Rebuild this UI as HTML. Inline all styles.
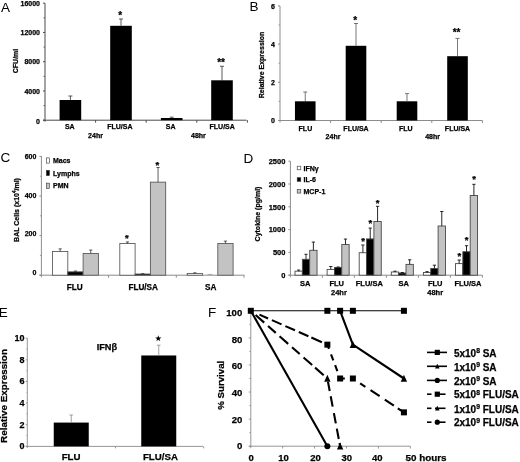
<!DOCTYPE html>
<html><head><meta charset="utf-8"><title>Figure</title>
<style>
html,body{margin:0;padding:0;background:#fff;}
body{width:520px;height:462px;overflow:hidden;}
svg{display:block;font-family:"Liberation Sans",sans-serif;will-change:transform;}
</style></head><body>
<svg width="520" height="462" viewBox="0 0 520 462">
<defs><filter id="soft" x="0" y="0" width="520" height="462" filterUnits="userSpaceOnUse"><feGaussianBlur stdDeviation="0.4"/></filter></defs>
<rect x="0" y="0" width="520" height="462" fill="#fff"/>
<g filter="url(#soft)">
<text x="1.00" y="11.70" font-size="13.5" text-anchor="start" font-weight="normal" fill="#000" >A</text>
<line x1="45.00" y1="3.20" x2="45.00" y2="121.70" stroke="#4a4a4a" stroke-width="1" />
<line x1="43.00" y1="120.20" x2="246.60" y2="120.20" stroke="#4a4a4a" stroke-width="1" />
<line x1="43.00" y1="120.20" x2="45.00" y2="120.20" stroke="#4a4a4a" stroke-width="1" />
<text x="40.00" y="123.80" font-size="7" text-anchor="end" font-weight="bold" fill="#000" stroke="#000" stroke-width="0.25" >0</text>
<line x1="43.00" y1="90.95" x2="45.00" y2="90.95" stroke="#4a4a4a" stroke-width="1" />
<text x="40.00" y="93.55" font-size="7" text-anchor="end" font-weight="bold" fill="#000" stroke="#000" stroke-width="0.25" >4000</text>
<line x1="43.00" y1="61.70" x2="45.00" y2="61.70" stroke="#4a4a4a" stroke-width="1" />
<text x="40.00" y="64.30" font-size="7" text-anchor="end" font-weight="bold" fill="#000" stroke="#000" stroke-width="0.25" >8000</text>
<line x1="43.00" y1="32.45" x2="45.00" y2="32.45" stroke="#4a4a4a" stroke-width="1" />
<text x="40.00" y="35.05" font-size="7" text-anchor="end" font-weight="bold" fill="#000" stroke="#000" stroke-width="0.25" >12000</text>
<line x1="43.00" y1="3.20" x2="45.00" y2="3.20" stroke="#4a4a4a" stroke-width="1" />
<text x="40.00" y="5.80" font-size="7" text-anchor="end" font-weight="bold" fill="#000" stroke="#000" stroke-width="0.25" >16000</text>
<line x1="43.50" y1="105.58" x2="45.00" y2="105.58" stroke="#4a4a4a" stroke-width="0.8" />
<line x1="43.50" y1="76.33" x2="45.00" y2="76.33" stroke="#4a4a4a" stroke-width="0.8" />
<line x1="43.50" y1="47.08" x2="45.00" y2="47.08" stroke="#4a4a4a" stroke-width="0.8" />
<line x1="43.50" y1="17.83" x2="45.00" y2="17.83" stroke="#4a4a4a" stroke-width="0.8" />
<line x1="95.60" y1="120.20" x2="95.60" y2="122.70" stroke="#4a4a4a" stroke-width="1" />
<line x1="146.20" y1="120.20" x2="146.20" y2="122.70" stroke="#4a4a4a" stroke-width="1" />
<line x1="196.80" y1="120.20" x2="196.80" y2="122.70" stroke="#4a4a4a" stroke-width="1" />
<line x1="247.40" y1="120.20" x2="247.40" y2="122.70" stroke="#4a4a4a" stroke-width="1" />
<text x="17.80" y="61.00" font-size="7" text-anchor="middle" font-weight="bold" fill="#000" stroke="#000" stroke-width="0.25" transform="rotate(-90 17.80 61.00)" >CFU/ml</text>
<rect x="59.60" y="100.00" width="21.60" height="20.20" fill="#000"/>
<line x1="70.40" y1="100.00" x2="70.40" y2="96.00" stroke="#333" stroke-width="0.8" />
<line x1="68.40" y1="96.00" x2="72.40" y2="96.00" stroke="#333" stroke-width="0.8" />
<rect x="110.20" y="25.80" width="21.60" height="94.40" fill="#000"/>
<line x1="121.00" y1="25.80" x2="121.00" y2="19.00" stroke="#333" stroke-width="0.8" />
<line x1="119.00" y1="19.00" x2="123.00" y2="19.00" stroke="#333" stroke-width="0.8" />
<text x="120.10" y="18.65" font-size="10" text-anchor="middle" font-weight="bold" fill="#000" stroke="#000" stroke-width="0.25" >*</text>
<rect x="160.90" y="118.00" width="21.60" height="2.20" fill="#000"/>
<line x1="171.70" y1="118.00" x2="171.70" y2="117.20" stroke="#333" stroke-width="0.8" />
<line x1="169.70" y1="117.20" x2="173.70" y2="117.20" stroke="#333" stroke-width="0.8" />
<rect x="211.20" y="80.30" width="21.60" height="39.90" fill="#000"/>
<line x1="222.00" y1="80.30" x2="222.00" y2="66.30" stroke="#333" stroke-width="0.8" />
<line x1="220.00" y1="66.30" x2="224.00" y2="66.30" stroke="#333" stroke-width="0.8" />
<text x="221.10" y="66.15" font-size="10" text-anchor="middle" font-weight="bold" fill="#000" stroke="#000" stroke-width="0.25" >**</text>
<text x="69.80" y="129.30" font-size="7" text-anchor="middle" font-weight="bold" fill="#000" stroke="#000" stroke-width="0.25" >SA</text>
<text x="119.90" y="129.30" font-size="7" text-anchor="middle" font-weight="bold" fill="#000" stroke="#000" stroke-width="0.25" >FLU/SA</text>
<text x="170.70" y="129.30" font-size="7" text-anchor="middle" font-weight="bold" fill="#000" stroke="#000" stroke-width="0.25" >SA</text>
<text x="222.20" y="129.30" font-size="7" text-anchor="middle" font-weight="bold" fill="#000" stroke="#000" stroke-width="0.25" >FLU/SA</text>
<text x="95.50" y="138.00" font-size="7" text-anchor="middle" font-weight="bold" fill="#000" stroke="#000" stroke-width="0.25" >24hr</text>
<text x="198.40" y="138.00" font-size="7" text-anchor="middle" font-weight="bold" fill="#000" stroke="#000" stroke-width="0.25" >48hr</text>
<text x="249.50" y="11.20" font-size="13.5" text-anchor="start" font-weight="normal" fill="#000" >B</text>
<line x1="280.00" y1="6.00" x2="280.00" y2="122.50" stroke="#8c8c8c" stroke-width="1" />
<line x1="278.00" y1="120.50" x2="482.50" y2="120.50" stroke="#8c8c8c" stroke-width="1" />
<line x1="278.00" y1="120.50" x2="280.00" y2="120.50" stroke="#8c8c8c" stroke-width="1" />
<text x="275.00" y="123.10" font-size="7" text-anchor="end" font-weight="bold" fill="#000" stroke="#000" stroke-width="0.25" >0</text>
<line x1="278.00" y1="82.30" x2="280.00" y2="82.30" stroke="#8c8c8c" stroke-width="1" />
<text x="275.00" y="84.90" font-size="7" text-anchor="end" font-weight="bold" fill="#000" stroke="#000" stroke-width="0.25" >2</text>
<line x1="278.00" y1="44.10" x2="280.00" y2="44.10" stroke="#8c8c8c" stroke-width="1" />
<text x="275.00" y="46.70" font-size="7" text-anchor="end" font-weight="bold" fill="#000" stroke="#000" stroke-width="0.25" >4</text>
<line x1="278.00" y1="5.90" x2="280.00" y2="5.90" stroke="#8c8c8c" stroke-width="1" />
<text x="275.00" y="8.50" font-size="7" text-anchor="end" font-weight="bold" fill="#000" stroke="#000" stroke-width="0.25" >6</text>
<line x1="278.50" y1="101.40" x2="280.00" y2="101.40" stroke="#8c8c8c" stroke-width="0.8" />
<line x1="278.50" y1="63.20" x2="280.00" y2="63.20" stroke="#8c8c8c" stroke-width="0.8" />
<line x1="278.50" y1="25.00" x2="280.00" y2="25.00" stroke="#8c8c8c" stroke-width="0.8" />
<line x1="330.60" y1="120.50" x2="330.60" y2="123.00" stroke="#8c8c8c" stroke-width="1" />
<line x1="381.20" y1="120.50" x2="381.20" y2="123.00" stroke="#8c8c8c" stroke-width="1" />
<line x1="431.80" y1="120.50" x2="431.80" y2="123.00" stroke="#8c8c8c" stroke-width="1" />
<line x1="482.40" y1="120.50" x2="482.40" y2="123.00" stroke="#8c8c8c" stroke-width="1" />
<text x="264.00" y="65.00" font-size="7" text-anchor="middle" font-weight="bold" fill="#000" stroke="#000" stroke-width="0.25" transform="rotate(-90 264.00 65.00)" >Relative Expression</text>
<rect x="294.95" y="101.30" width="20.60" height="19.20" fill="#000"/>
<line x1="305.25" y1="101.30" x2="305.25" y2="92.00" stroke="#555" stroke-width="0.8" />
<line x1="303.25" y1="92.00" x2="307.25" y2="92.00" stroke="#555" stroke-width="0.8" />
<rect x="345.70" y="45.80" width="20.60" height="74.70" fill="#000"/>
<line x1="356.00" y1="45.80" x2="356.00" y2="23.50" stroke="#555" stroke-width="0.8" />
<line x1="354.00" y1="23.50" x2="358.00" y2="23.50" stroke="#555" stroke-width="0.8" />
<text x="355.10" y="23.95" font-size="10" text-anchor="middle" font-weight="bold" fill="#000" stroke="#000" stroke-width="0.25" >*</text>
<rect x="396.70" y="101.30" width="20.60" height="19.20" fill="#000"/>
<line x1="407.00" y1="101.30" x2="407.00" y2="93.60" stroke="#555" stroke-width="0.8" />
<line x1="405.00" y1="93.60" x2="409.00" y2="93.60" stroke="#555" stroke-width="0.8" />
<rect x="447.20" y="56.20" width="20.60" height="64.30" fill="#000"/>
<line x1="457.50" y1="56.20" x2="457.50" y2="38.40" stroke="#555" stroke-width="0.8" />
<line x1="455.50" y1="38.40" x2="459.50" y2="38.40" stroke="#555" stroke-width="0.8" />
<text x="456.60" y="35.85" font-size="10" text-anchor="middle" font-weight="bold" fill="#000" stroke="#000" stroke-width="0.25" >**</text>
<text x="305.40" y="131.30" font-size="7" text-anchor="middle" font-weight="bold" fill="#000" stroke="#000" stroke-width="0.25" >FLU</text>
<text x="356.00" y="131.30" font-size="7" text-anchor="middle" font-weight="bold" fill="#000" stroke="#000" stroke-width="0.25" >FLU/SA</text>
<text x="405.70" y="131.30" font-size="7" text-anchor="middle" font-weight="bold" fill="#000" stroke="#000" stroke-width="0.25" >FLU</text>
<text x="457.50" y="131.30" font-size="7" text-anchor="middle" font-weight="bold" fill="#000" stroke="#000" stroke-width="0.25" >FLU/SA</text>
<text x="333.00" y="139.20" font-size="7" text-anchor="middle" font-weight="bold" fill="#000" stroke="#000" stroke-width="0.25" >24hr</text>
<text x="432.60" y="139.20" font-size="7" text-anchor="middle" font-weight="bold" fill="#000" stroke="#000" stroke-width="0.25" >48hr</text>
<text x="0.50" y="162.30" font-size="13.5" text-anchor="start" font-weight="normal" fill="#000" >C</text>
<line x1="41.40" y1="156.00" x2="41.40" y2="277.20" stroke="#8c8c8c" stroke-width="1" />
<line x1="39.40" y1="275.20" x2="244.40" y2="275.20" stroke="#8c8c8c" stroke-width="1" />
<line x1="39.40" y1="275.20" x2="41.40" y2="275.20" stroke="#8c8c8c" stroke-width="1" />
<text x="36.40" y="275.10" font-size="7" text-anchor="end" font-weight="bold" fill="#000" stroke="#000" stroke-width="0.25" >0</text>
<line x1="39.40" y1="235.60" x2="41.40" y2="235.60" stroke="#8c8c8c" stroke-width="1" />
<text x="36.40" y="236.30" font-size="7" text-anchor="end" font-weight="bold" fill="#000" stroke="#000" stroke-width="0.25" >200</text>
<line x1="39.40" y1="196.00" x2="41.40" y2="196.00" stroke="#8c8c8c" stroke-width="1" />
<text x="36.40" y="197.50" font-size="7" text-anchor="end" font-weight="bold" fill="#000" stroke="#000" stroke-width="0.25" >400</text>
<line x1="39.40" y1="156.40" x2="41.40" y2="156.40" stroke="#8c8c8c" stroke-width="1" />
<text x="36.40" y="158.70" font-size="7" text-anchor="end" font-weight="bold" fill="#000" stroke="#000" stroke-width="0.25" >600</text>
<line x1="39.90" y1="255.40" x2="41.40" y2="255.40" stroke="#8c8c8c" stroke-width="0.8" />
<line x1="39.90" y1="215.80" x2="41.40" y2="215.80" stroke="#8c8c8c" stroke-width="0.8" />
<line x1="39.90" y1="176.20" x2="41.40" y2="176.20" stroke="#8c8c8c" stroke-width="0.8" />
<line x1="108.60" y1="275.20" x2="108.60" y2="277.70" stroke="#8c8c8c" stroke-width="1" />
<line x1="176.30" y1="275.20" x2="176.30" y2="277.70" stroke="#8c8c8c" stroke-width="1" />
<line x1="244.00" y1="275.20" x2="244.00" y2="277.70" stroke="#8c8c8c" stroke-width="1" />
<text x="18.60" y="210.00" font-size="7" text-anchor="middle" font-weight="bold" fill="#000" stroke="#000" stroke-width="0.25" transform="rotate(-90 18.60 210.00)" >BAL Cells (x10<tspan font-size="4.5" dy="-2.5">4</tspan><tspan dy="2.5">/ml)</tspan></text>
<rect x="46.40" y="157.90" width="3.00" height="5.20" fill="#fff" stroke="#333" stroke-width="0.6"/>
<text x="53.00" y="163.00" font-size="7" text-anchor="start" font-weight="bold" fill="#000" stroke="#000" stroke-width="0.25" >Macs</text>
<rect x="46.40" y="170.40" width="3.00" height="5.20" fill="#000" stroke="#333" stroke-width="0.6"/>
<text x="53.00" y="175.50" font-size="7" text-anchor="start" font-weight="bold" fill="#000" stroke="#000" stroke-width="0.25" >Lymphs</text>
<rect x="46.40" y="183.15" width="3.00" height="5.20" fill="#c3c3c3" stroke="#333" stroke-width="0.6"/>
<text x="53.00" y="188.25" font-size="7" text-anchor="start" font-weight="bold" fill="#000" stroke="#000" stroke-width="0.25" >PMN</text>
<rect x="52.50" y="251.44" width="15.30" height="23.76" fill="#fff" stroke="#555" stroke-width="0.85"/>
<line x1="60.15" y1="251.44" x2="60.15" y2="248.87" stroke="#333" stroke-width="0.8" />
<line x1="58.55" y1="248.87" x2="61.75" y2="248.87" stroke="#333" stroke-width="0.8" />
<rect x="67.80" y="271.83" width="15.30" height="3.37" fill="#000" stroke="#555" stroke-width="0.85"/>
<line x1="75.45" y1="271.83" x2="75.45" y2="271.04" stroke="#333" stroke-width="0.8" />
<line x1="73.85" y1="271.04" x2="77.05" y2="271.04" stroke="#333" stroke-width="0.8" />
<rect x="83.10" y="253.42" width="15.30" height="21.78" fill="#c3c3c3" stroke="#555" stroke-width="0.85"/>
<line x1="90.75" y1="253.42" x2="90.75" y2="250.05" stroke="#333" stroke-width="0.8" />
<line x1="89.15" y1="250.05" x2="92.35" y2="250.05" stroke="#333" stroke-width="0.8" />
<rect x="119.80" y="243.52" width="15.30" height="31.68" fill="#fff" stroke="#555" stroke-width="0.85"/>
<line x1="127.45" y1="243.52" x2="127.45" y2="241.94" stroke="#333" stroke-width="0.8" />
<line x1="125.85" y1="241.94" x2="129.05" y2="241.94" stroke="#333" stroke-width="0.8" />
<text x="126.85" y="240.89" font-size="9.5" text-anchor="middle" font-weight="bold" fill="#000" stroke="#000" stroke-width="0.25" >*</text>
<rect x="135.10" y="274.01" width="15.30" height="1.19" fill="#000" stroke="#555" stroke-width="0.85"/>
<line x1="142.75" y1="274.01" x2="142.75" y2="273.62" stroke="#333" stroke-width="0.8" />
<line x1="141.15" y1="273.62" x2="144.35" y2="273.62" stroke="#333" stroke-width="0.8" />
<rect x="150.40" y="182.14" width="15.30" height="93.06" fill="#c3c3c3" stroke="#555" stroke-width="0.85"/>
<line x1="158.05" y1="182.14" x2="158.05" y2="167.49" stroke="#333" stroke-width="0.8" />
<line x1="156.45" y1="167.49" x2="159.65" y2="167.49" stroke="#333" stroke-width="0.8" />
<text x="157.45" y="167.69" font-size="9.5" text-anchor="middle" font-weight="bold" fill="#000" stroke="#000" stroke-width="0.25" >*</text>
<rect x="187.20" y="273.42" width="15.30" height="1.78" fill="#fff" stroke="#555" stroke-width="0.85"/>
<line x1="194.85" y1="273.42" x2="194.85" y2="272.82" stroke="#333" stroke-width="0.8" />
<line x1="193.25" y1="272.82" x2="196.45" y2="272.82" stroke="#333" stroke-width="0.8" />
<line x1="207.50" y1="274.40" x2="212.50" y2="274.40" stroke="#999" stroke-width="0.8" />
<rect x="217.80" y="243.52" width="15.30" height="31.68" fill="#c3c3c3" stroke="#555" stroke-width="0.85"/>
<line x1="225.45" y1="243.52" x2="225.45" y2="241.14" stroke="#333" stroke-width="0.8" />
<line x1="223.85" y1="241.14" x2="227.05" y2="241.14" stroke="#333" stroke-width="0.8" />
<text x="74.80" y="289.60" font-size="8.2" text-anchor="middle" font-weight="bold" fill="#000" stroke="#000" stroke-width="0.25" >FLU</text>
<text x="143.20" y="289.60" font-size="8.2" text-anchor="middle" font-weight="bold" fill="#000" stroke="#000" stroke-width="0.25" >FLU/SA</text>
<text x="210.70" y="289.60" font-size="8.2" text-anchor="middle" font-weight="bold" fill="#000" stroke="#000" stroke-width="0.25" >SA</text>
<text x="243.50" y="162.60" font-size="13.5" text-anchor="start" font-weight="normal" fill="#000" >D</text>
<line x1="290.40" y1="161.30" x2="290.40" y2="277.20" stroke="#8c8c8c" stroke-width="1" />
<line x1="288.40" y1="275.20" x2="482.50" y2="275.20" stroke="#8c8c8c" stroke-width="1" />
<line x1="288.40" y1="275.20" x2="290.40" y2="275.20" stroke="#8c8c8c" stroke-width="1" />
<text x="285.40" y="277.90" font-size="7.5" text-anchor="end" font-weight="bold" fill="#000" stroke="#000" stroke-width="0.25" >0</text>
<line x1="288.40" y1="252.40" x2="290.40" y2="252.40" stroke="#8c8c8c" stroke-width="1" />
<text x="285.40" y="255.10" font-size="7.5" text-anchor="end" font-weight="bold" fill="#000" stroke="#000" stroke-width="0.25" >500</text>
<line x1="288.40" y1="229.60" x2="290.40" y2="229.60" stroke="#8c8c8c" stroke-width="1" />
<text x="285.40" y="232.30" font-size="7.5" text-anchor="end" font-weight="bold" fill="#000" stroke="#000" stroke-width="0.25" >1000</text>
<line x1="288.40" y1="206.80" x2="290.40" y2="206.80" stroke="#8c8c8c" stroke-width="1" />
<text x="285.40" y="209.50" font-size="7.5" text-anchor="end" font-weight="bold" fill="#000" stroke="#000" stroke-width="0.25" >1500</text>
<line x1="288.40" y1="184.00" x2="290.40" y2="184.00" stroke="#8c8c8c" stroke-width="1" />
<text x="285.40" y="186.70" font-size="7.5" text-anchor="end" font-weight="bold" fill="#000" stroke="#000" stroke-width="0.25" >2000</text>
<line x1="288.40" y1="161.20" x2="290.40" y2="161.20" stroke="#8c8c8c" stroke-width="1" />
<text x="285.40" y="163.90" font-size="7.5" text-anchor="end" font-weight="bold" fill="#000" stroke="#000" stroke-width="0.25" >2500</text>
<line x1="322.40" y1="275.20" x2="322.40" y2="277.70" stroke="#8c8c8c" stroke-width="1" />
<line x1="354.40" y1="275.20" x2="354.40" y2="277.70" stroke="#8c8c8c" stroke-width="1" />
<line x1="386.40" y1="275.20" x2="386.40" y2="277.70" stroke="#8c8c8c" stroke-width="1" />
<line x1="418.40" y1="275.20" x2="418.40" y2="277.70" stroke="#8c8c8c" stroke-width="1" />
<line x1="450.40" y1="275.20" x2="450.40" y2="277.70" stroke="#8c8c8c" stroke-width="1" />
<line x1="482.40" y1="275.20" x2="482.40" y2="277.70" stroke="#8c8c8c" stroke-width="1" />
<text x="260.30" y="214.00" font-size="7" text-anchor="middle" font-weight="bold" fill="#000" stroke="#000" stroke-width="0.25" transform="rotate(-90 260.30 214.00)" >Cytokine (pg/ml)</text>
<rect x="297.20" y="166.20" width="3.60" height="3.60" fill="#fff" stroke="#333" stroke-width="0.6"/>
<text x="303.50" y="170.50" font-size="7" text-anchor="start" font-weight="bold" fill="#000" stroke="#000" stroke-width="0.25" >IFN&#947;</text>
<rect x="297.20" y="177.70" width="3.60" height="3.60" fill="#000" stroke="#333" stroke-width="0.6"/>
<text x="303.50" y="182.00" font-size="7" text-anchor="start" font-weight="bold" fill="#000" stroke="#000" stroke-width="0.25" >IL-6</text>
<rect x="297.20" y="189.50" width="3.60" height="3.60" fill="#c3c3c3" stroke="#333" stroke-width="0.6"/>
<text x="303.50" y="193.80" font-size="7" text-anchor="start" font-weight="bold" fill="#000" stroke="#000" stroke-width="0.25" >MCP-1</text>
<rect x="295.00" y="271.19" width="7.35" height="4.01" fill="#fff" stroke="#4a4a4a" stroke-width="0.9"/>
<line x1="298.68" y1="271.19" x2="298.68" y2="270.09" stroke="#111" stroke-width="0.9" />
<line x1="297.07" y1="270.09" x2="300.28" y2="270.09" stroke="#111" stroke-width="0.9" />
<rect x="302.35" y="259.29" width="7.35" height="15.91" fill="#000" stroke="#4a4a4a" stroke-width="0.9"/>
<line x1="306.03" y1="259.29" x2="306.03" y2="254.32" stroke="#111" stroke-width="0.9" />
<line x1="304.43" y1="254.32" x2="307.63" y2="254.32" stroke="#111" stroke-width="0.9" />
<rect x="309.70" y="250.30" width="7.35" height="24.90" fill="#c3c3c3" stroke="#4a4a4a" stroke-width="0.9"/>
<line x1="313.38" y1="250.30" x2="313.38" y2="242.09" stroke="#111" stroke-width="0.9" />
<line x1="311.77" y1="242.09" x2="314.98" y2="242.09" stroke="#111" stroke-width="0.9" />
<rect x="327.10" y="269.41" width="7.35" height="5.79" fill="#fff" stroke="#4a4a4a" stroke-width="0.9"/>
<line x1="330.78" y1="269.41" x2="330.78" y2="266.49" stroke="#111" stroke-width="0.9" />
<line x1="329.18" y1="266.49" x2="332.38" y2="266.49" stroke="#111" stroke-width="0.9" />
<rect x="334.45" y="267.40" width="7.35" height="7.80" fill="#000" stroke="#4a4a4a" stroke-width="0.9"/>
<line x1="338.13" y1="267.40" x2="338.13" y2="266.99" stroke="#111" stroke-width="0.9" />
<line x1="336.53" y1="266.99" x2="339.73" y2="266.99" stroke="#111" stroke-width="0.9" />
<rect x="341.80" y="244.51" width="7.35" height="30.69" fill="#c3c3c3" stroke="#4a4a4a" stroke-width="0.9"/>
<line x1="345.48" y1="244.51" x2="345.48" y2="239.08" stroke="#111" stroke-width="0.9" />
<line x1="343.88" y1="239.08" x2="347.08" y2="239.08" stroke="#111" stroke-width="0.9" />
<rect x="359.20" y="252.72" width="7.35" height="22.48" fill="#fff" stroke="#4a4a4a" stroke-width="0.9"/>
<line x1="362.88" y1="252.72" x2="362.88" y2="245.01" stroke="#111" stroke-width="0.9" />
<line x1="361.27" y1="245.01" x2="364.48" y2="245.01" stroke="#111" stroke-width="0.9" />
<text x="362.98" y="244.49" font-size="9.5" text-anchor="middle" font-weight="bold" fill="#000" stroke="#000" stroke-width="0.25" >*</text>
<rect x="366.55" y="238.90" width="7.35" height="36.30" fill="#000" stroke="#4a4a4a" stroke-width="0.9"/>
<line x1="370.23" y1="238.90" x2="370.23" y2="228.10" stroke="#111" stroke-width="0.9" />
<line x1="368.62" y1="228.10" x2="371.83" y2="228.10" stroke="#111" stroke-width="0.9" />
<text x="370.33" y="225.59" font-size="9.5" text-anchor="middle" font-weight="bold" fill="#000" stroke="#000" stroke-width="0.25" >*</text>
<rect x="373.90" y="221.48" width="7.35" height="53.72" fill="#c3c3c3" stroke="#4a4a4a" stroke-width="0.9"/>
<line x1="377.57" y1="221.48" x2="377.57" y2="206.30" stroke="#111" stroke-width="0.9" />
<line x1="375.97" y1="206.30" x2="379.18" y2="206.30" stroke="#111" stroke-width="0.9" />
<text x="377.68" y="206.19" font-size="9.5" text-anchor="middle" font-weight="bold" fill="#000" stroke="#000" stroke-width="0.25" >*</text>
<rect x="391.30" y="272.01" width="7.35" height="3.19" fill="#fff" stroke="#4a4a4a" stroke-width="0.9"/>
<line x1="394.98" y1="272.01" x2="394.98" y2="271.19" stroke="#111" stroke-width="0.9" />
<line x1="393.38" y1="271.19" x2="396.58" y2="271.19" stroke="#111" stroke-width="0.9" />
<rect x="398.65" y="273.01" width="7.35" height="2.19" fill="#000" stroke="#4a4a4a" stroke-width="0.9"/>
<line x1="402.33" y1="273.01" x2="402.33" y2="272.56" stroke="#111" stroke-width="0.9" />
<line x1="400.73" y1="272.56" x2="403.93" y2="272.56" stroke="#111" stroke-width="0.9" />
<rect x="406.00" y="264.39" width="7.35" height="10.81" fill="#c3c3c3" stroke="#4a4a4a" stroke-width="0.9"/>
<line x1="409.68" y1="264.39" x2="409.68" y2="259.79" stroke="#111" stroke-width="0.9" />
<line x1="408.07" y1="259.79" x2="411.28" y2="259.79" stroke="#111" stroke-width="0.9" />
<rect x="423.40" y="272.51" width="7.35" height="2.69" fill="#fff" stroke="#4a4a4a" stroke-width="0.9"/>
<line x1="427.07" y1="272.51" x2="427.07" y2="271.64" stroke="#111" stroke-width="0.9" />
<line x1="425.47" y1="271.64" x2="428.68" y2="271.64" stroke="#111" stroke-width="0.9" />
<rect x="430.75" y="268.50" width="7.35" height="6.70" fill="#000" stroke="#4a4a4a" stroke-width="0.9"/>
<line x1="434.43" y1="268.50" x2="434.43" y2="265.21" stroke="#111" stroke-width="0.9" />
<line x1="432.82" y1="265.21" x2="436.03" y2="265.21" stroke="#111" stroke-width="0.9" />
<rect x="438.10" y="226.00" width="7.35" height="49.20" fill="#c3c3c3" stroke="#4a4a4a" stroke-width="0.9"/>
<line x1="441.77" y1="226.00" x2="441.77" y2="211.50" stroke="#111" stroke-width="0.9" />
<line x1="440.17" y1="211.50" x2="443.38" y2="211.50" stroke="#111" stroke-width="0.9" />
<rect x="455.50" y="263.62" width="7.35" height="11.58" fill="#fff" stroke="#4a4a4a" stroke-width="0.9"/>
<line x1="459.18" y1="263.62" x2="459.18" y2="260.02" stroke="#111" stroke-width="0.9" />
<line x1="457.57" y1="260.02" x2="460.78" y2="260.02" stroke="#111" stroke-width="0.9" />
<text x="459.28" y="259.09" font-size="9.5" text-anchor="middle" font-weight="bold" fill="#000" stroke="#000" stroke-width="0.25" >*</text>
<rect x="462.85" y="251.72" width="7.35" height="23.48" fill="#000" stroke="#4a4a4a" stroke-width="0.9"/>
<line x1="466.53" y1="251.72" x2="466.53" y2="245.70" stroke="#111" stroke-width="0.9" />
<line x1="464.93" y1="245.70" x2="468.13" y2="245.70" stroke="#111" stroke-width="0.9" />
<text x="466.63" y="243.49" font-size="9.5" text-anchor="middle" font-weight="bold" fill="#000" stroke="#000" stroke-width="0.25" >*</text>
<rect x="470.20" y="195.49" width="7.35" height="79.71" fill="#c3c3c3" stroke="#4a4a4a" stroke-width="0.9"/>
<line x1="473.88" y1="195.49" x2="473.88" y2="184.32" stroke="#111" stroke-width="0.9" />
<line x1="472.27" y1="184.32" x2="475.48" y2="184.32" stroke="#111" stroke-width="0.9" />
<text x="473.98" y="181.99" font-size="9.5" text-anchor="middle" font-weight="bold" fill="#000" stroke="#000" stroke-width="0.25" >*</text>
<text x="305.20" y="286.30" font-size="7.5" text-anchor="middle" font-weight="bold" fill="#000" stroke="#000" stroke-width="0.25" >SA</text>
<text x="336.70" y="286.30" font-size="7.5" text-anchor="middle" font-weight="bold" fill="#000" stroke="#000" stroke-width="0.25" >FLU</text>
<text x="369.30" y="286.30" font-size="7.5" text-anchor="middle" font-weight="bold" fill="#000" stroke="#000" stroke-width="0.25" >FLU/SA</text>
<text x="403.70" y="286.30" font-size="7.5" text-anchor="middle" font-weight="bold" fill="#000" stroke="#000" stroke-width="0.25" >SA</text>
<text x="435.20" y="286.30" font-size="7.5" text-anchor="middle" font-weight="bold" fill="#000" stroke="#000" stroke-width="0.25" >FLU</text>
<text x="468.00" y="286.30" font-size="7.5" text-anchor="middle" font-weight="bold" fill="#000" stroke="#000" stroke-width="0.25" >FLU/SA</text>
<text x="338.90" y="295.20" font-size="7.5" text-anchor="middle" font-weight="bold" fill="#000" stroke="#000" stroke-width="0.25" >24hr</text>
<text x="435.20" y="295.20" font-size="7.5" text-anchor="middle" font-weight="bold" fill="#000" stroke="#000" stroke-width="0.25" >48hr</text>
<text x="-1.20" y="316.60" font-size="13.5" text-anchor="start" font-weight="normal" fill="#000" >E</text>
<line x1="27.30" y1="338.00" x2="27.30" y2="447.90" stroke="#8a8a8a" stroke-width="0.9" />
<line x1="25.80" y1="446.40" x2="203.00" y2="446.40" stroke="#8a8a8a" stroke-width="0.9" />
<line x1="25.80" y1="446.40" x2="27.30" y2="446.40" stroke="#8a8a8a" stroke-width="0.9" />
<text x="24.50" y="449.30" font-size="9" text-anchor="end" font-weight="bold" fill="#000" stroke="#000" stroke-width="0.25" >0</text>
<line x1="25.80" y1="424.75" x2="27.30" y2="424.75" stroke="#8a8a8a" stroke-width="0.9" />
<text x="24.50" y="427.65" font-size="9" text-anchor="end" font-weight="bold" fill="#000" stroke="#000" stroke-width="0.25" >2</text>
<line x1="25.80" y1="403.10" x2="27.30" y2="403.10" stroke="#8a8a8a" stroke-width="0.9" />
<text x="24.50" y="406.00" font-size="9" text-anchor="end" font-weight="bold" fill="#000" stroke="#000" stroke-width="0.25" >4</text>
<line x1="25.80" y1="381.45" x2="27.30" y2="381.45" stroke="#8a8a8a" stroke-width="0.9" />
<text x="24.50" y="384.35" font-size="9" text-anchor="end" font-weight="bold" fill="#000" stroke="#000" stroke-width="0.25" >6</text>
<line x1="25.80" y1="359.80" x2="27.30" y2="359.80" stroke="#8a8a8a" stroke-width="0.9" />
<text x="24.50" y="362.70" font-size="9" text-anchor="end" font-weight="bold" fill="#000" stroke="#000" stroke-width="0.25" >8</text>
<line x1="25.80" y1="338.15" x2="27.30" y2="338.15" stroke="#8a8a8a" stroke-width="0.9" />
<text x="24.50" y="341.05" font-size="9" text-anchor="end" font-weight="bold" fill="#000" stroke="#000" stroke-width="0.25" >10</text>
<line x1="26.30" y1="435.57" x2="27.30" y2="435.57" stroke="#8a8a8a" stroke-width="0.7" />
<line x1="26.30" y1="413.93" x2="27.30" y2="413.93" stroke="#8a8a8a" stroke-width="0.7" />
<line x1="26.30" y1="392.27" x2="27.30" y2="392.27" stroke="#8a8a8a" stroke-width="0.7" />
<line x1="26.30" y1="370.62" x2="27.30" y2="370.62" stroke="#8a8a8a" stroke-width="0.7" />
<line x1="26.30" y1="348.98" x2="27.30" y2="348.98" stroke="#8a8a8a" stroke-width="0.7" />
<line x1="115.50" y1="446.40" x2="115.50" y2="448.40" stroke="#8a8a8a" stroke-width="0.9" />
<line x1="203.70" y1="446.40" x2="203.70" y2="448.40" stroke="#8a8a8a" stroke-width="0.9" />
<text x="7.30" y="396.00" font-size="9.9" text-anchor="middle" font-weight="bold" fill="#000" stroke="#000" stroke-width="0.25" transform="rotate(-90 7.30 396.00)" >Relative Expression</text>
<text x="106.90" y="350.20" font-size="9.2" text-anchor="middle" font-weight="bold" fill="#000" stroke="#000" stroke-width="0.25" >IFN&#946;</text>
<rect x="53.75" y="422.58" width="35.00" height="23.81" fill="#000"/>
<line x1="71.25" y1="422.58" x2="71.25" y2="415.01" stroke="#8c8c8c" stroke-width="0.8" />
<line x1="69.45" y1="415.01" x2="73.05" y2="415.01" stroke="#8c8c8c" stroke-width="0.8" />
<rect x="141.25" y="355.47" width="35.00" height="90.93" fill="#000"/>
<line x1="158.75" y1="355.47" x2="158.75" y2="345.19" stroke="#8c8c8c" stroke-width="0.8" />
<line x1="156.95" y1="345.19" x2="160.55" y2="345.19" stroke="#8c8c8c" stroke-width="0.8" />
<polygon points="158.30,335.20 159.09,337.41 161.44,337.48 159.58,338.92 160.24,341.17 158.30,339.85 156.36,341.17 157.02,338.92 155.16,337.48 157.51,337.41" fill="#000"/>
<text x="71.10" y="459.80" font-size="9.7" text-anchor="middle" font-weight="bold" fill="#000" stroke="#000" stroke-width="0.25" >FLU</text>
<text x="160.40" y="459.80" font-size="9.7" text-anchor="middle" font-weight="bold" fill="#000" stroke="#000" stroke-width="0.25" >FLU/SA</text>
<text x="207.90" y="317.20" font-size="13.5" text-anchor="start" font-weight="normal" fill="#000" >F</text>
<line x1="250.80" y1="310.80" x2="250.80" y2="448.20" stroke="#8a8a8a" stroke-width="0.9" />
<line x1="248.80" y1="446.20" x2="410.30" y2="446.20" stroke="#8a8a8a" stroke-width="0.9" />
<line x1="248.80" y1="446.20" x2="250.80" y2="446.20" stroke="#8a8a8a" stroke-width="0.9" />
<text x="242.30" y="449.04" font-size="9.6" text-anchor="end" font-weight="bold" fill="#000" stroke="#000" stroke-width="0.25" >0</text>
<line x1="248.80" y1="419.12" x2="250.80" y2="419.12" stroke="#8a8a8a" stroke-width="0.9" />
<text x="242.30" y="422.50" font-size="9.6" text-anchor="end" font-weight="bold" fill="#000" stroke="#000" stroke-width="0.25" >20</text>
<line x1="248.80" y1="392.04" x2="250.80" y2="392.04" stroke="#8a8a8a" stroke-width="0.9" />
<text x="242.30" y="395.96" font-size="9.6" text-anchor="end" font-weight="bold" fill="#000" stroke="#000" stroke-width="0.25" >40</text>
<line x1="248.80" y1="364.96" x2="250.80" y2="364.96" stroke="#8a8a8a" stroke-width="0.9" />
<text x="242.30" y="369.42" font-size="9.6" text-anchor="end" font-weight="bold" fill="#000" stroke="#000" stroke-width="0.25" >60</text>
<line x1="248.80" y1="337.88" x2="250.80" y2="337.88" stroke="#8a8a8a" stroke-width="0.9" />
<text x="242.30" y="342.88" font-size="9.6" text-anchor="end" font-weight="bold" fill="#000" stroke="#000" stroke-width="0.25" >80</text>
<line x1="248.80" y1="310.80" x2="250.80" y2="310.80" stroke="#8a8a8a" stroke-width="0.9" />
<text x="242.30" y="316.34" font-size="9.6" text-anchor="end" font-weight="bold" fill="#000" stroke="#000" stroke-width="0.25" >100</text>
<line x1="249.30" y1="432.66" x2="250.80" y2="432.66" stroke="#8a8a8a" stroke-width="0.8" />
<line x1="249.30" y1="405.58" x2="250.80" y2="405.58" stroke="#8a8a8a" stroke-width="0.8" />
<line x1="249.30" y1="378.50" x2="250.80" y2="378.50" stroke="#8a8a8a" stroke-width="0.8" />
<line x1="249.30" y1="351.42" x2="250.80" y2="351.42" stroke="#8a8a8a" stroke-width="0.8" />
<line x1="249.30" y1="324.34" x2="250.80" y2="324.34" stroke="#8a8a8a" stroke-width="0.8" />
<line x1="282.70" y1="446.20" x2="282.70" y2="448.50" stroke="#8a8a8a" stroke-width="0.9" />
<line x1="314.60" y1="446.20" x2="314.60" y2="448.50" stroke="#8a8a8a" stroke-width="0.9" />
<line x1="346.50" y1="446.20" x2="346.50" y2="448.50" stroke="#8a8a8a" stroke-width="0.9" />
<line x1="378.40" y1="446.20" x2="378.40" y2="448.50" stroke="#8a8a8a" stroke-width="0.9" />
<line x1="410.30" y1="446.20" x2="410.30" y2="448.50" stroke="#8a8a8a" stroke-width="0.9" />
<text x="251.10" y="460.60" font-size="9.5" text-anchor="middle" font-weight="bold" fill="#000" stroke="#000" stroke-width="0.25" >0</text>
<text x="283.50" y="460.60" font-size="9.5" text-anchor="middle" font-weight="bold" fill="#000" stroke="#000" stroke-width="0.25" >10</text>
<text x="315.50" y="460.60" font-size="9.5" text-anchor="middle" font-weight="bold" fill="#000" stroke="#000" stroke-width="0.25" >20</text>
<text x="346.80" y="460.60" font-size="9.5" text-anchor="middle" font-weight="bold" fill="#000" stroke="#000" stroke-width="0.25" >30</text>
<text x="377.20" y="460.60" font-size="9.5" text-anchor="middle" font-weight="bold" fill="#000" stroke="#000" stroke-width="0.25" >40</text>
<text x="405.50" y="460.60" font-size="9.85" text-anchor="start" font-weight="bold" fill="#000" stroke="#000" stroke-width="0.25" >50 hours</text>
<text x="223.60" y="385.20" font-size="9.7" text-anchor="middle" font-weight="bold" fill="#000" stroke="#000" stroke-width="0.25" transform="rotate(-90 223.60 385.20)" >% Survival</text>
<polyline points="250.80,310.80 327.36,310.80 340.12,310.80 352.88,310.80 403.92,310.80" fill="none" stroke="#000" stroke-width="1.1" stroke-linejoin="round"/>
<polyline points="340.12,310.80 352.88,344.65 403.92,378.50" fill="none" stroke="#000" stroke-width="2.1" stroke-linejoin="round"/>
<polyline points="250.80,310.80 327.36,446.20" fill="none" stroke="#000" stroke-width="2.1" stroke-linejoin="round"/>
<polyline points="250.80,310.80 327.36,344.65" fill="none" stroke="#000" stroke-width="2.1" stroke-linejoin="round" stroke-dasharray="0 9.45 9.45 4.2 10.5 4.2 10.5 4.2 10.5 3.2 11.5 10"/>
<polyline points="327.36,344.65 340.12,378.50" fill="none" stroke="#000" stroke-width="2.1" stroke-linejoin="round" stroke-dasharray="4.6 5.8 6.4 5.2 6.3 10"/>
<polyline points="340.12,378.50 352.88,378.50" fill="none" stroke="#000" stroke-width="2.1" stroke-linejoin="round" stroke-dasharray="4.7 20"/>
<polyline points="352.88,378.50 403.92,412.35" fill="none" stroke="#000" stroke-width="2.1" stroke-linejoin="round" stroke-dasharray="0 8.7 6.3 6.2 10.9 6.2 10.9 4.7 7 10"/>
<polyline points="250.80,310.80 327.36,378.50" fill="none" stroke="#000" stroke-width="2.1" stroke-linejoin="round" stroke-dasharray="0 6.4 11.5 5.1 10.3 5.1 11.5 5.1 10.3 5.1 11.5 3.9 11.5 10"/>
<polyline points="327.36,378.50 340.12,446.20" fill="none" stroke="#000" stroke-width="2.1" stroke-linejoin="round" stroke-dasharray="0 3.4 9.3 5.3 10.6 6.6 10.5 5.3 10.6 4 3"/>
<polygon points="352.88,340.91 349.68,347.91 356.08,347.91" fill="#000"/>
<polygon points="403.92,374.76 400.72,381.76 407.12,381.76" fill="#000"/>
<polygon points="327.36,374.76 324.16,381.76 330.56,381.76" fill="#000"/>
<polygon points="340.12,442.46 336.92,449.46 343.32,449.46" fill="#000"/>
<rect x="247.80" y="307.80" width="6.00" height="6.00" fill="#000"/>
<rect x="324.36" y="307.80" width="6.00" height="6.00" fill="#000"/>
<rect x="337.12" y="307.80" width="6.00" height="6.00" fill="#000"/>
<rect x="349.88" y="307.80" width="6.00" height="6.00" fill="#000"/>
<rect x="400.92" y="307.80" width="6.00" height="6.00" fill="#000"/>
<rect x="324.36" y="341.65" width="6.00" height="6.00" fill="#000"/>
<rect x="337.12" y="375.50" width="6.00" height="6.00" fill="#000"/>
<rect x="349.88" y="375.50" width="6.00" height="6.00" fill="#000"/>
<rect x="400.92" y="409.35" width="6.00" height="6.00" fill="#000"/>
<circle cx="327.36" cy="446.20" r="3.0" fill="#000"/>
<line x1="427.00" y1="352.40" x2="447.00" y2="352.40" stroke="#000" stroke-width="1.6" />
<rect x="434.70" y="349.80" width="5.20" height="5.20" fill="#000"/>
<text x="453.90" y="356.60" font-size="10" text-anchor="start" font-weight="bold" fill="#000" stroke="#000" stroke-width="0.25" >5x10<tspan font-size="6.8" dy="-3.3">8</tspan><tspan dy="3.3"> SA</tspan></text>
<line x1="427.00" y1="366.30" x2="447.00" y2="366.30" stroke="#000" stroke-width="1.6" />
<polygon points="437.30,363.66 435.04,368.60 439.56,368.60" fill="#000"/>
<text x="453.90" y="370.50" font-size="10" text-anchor="start" font-weight="bold" fill="#000" stroke="#000" stroke-width="0.25" >1x10<tspan font-size="6.8" dy="-3.3">9</tspan><tspan dy="3.3"> SA</tspan></text>
<line x1="427.00" y1="380.40" x2="447.00" y2="380.40" stroke="#000" stroke-width="1.6" />
<circle cx="437.30" cy="380.40" r="2.6" fill="#000"/>
<text x="453.90" y="384.60" font-size="10" text-anchor="start" font-weight="bold" fill="#000" stroke="#000" stroke-width="0.25" >2x10<tspan font-size="6.8" dy="-3.3">9</tspan><tspan dy="3.3"> SA</tspan></text>
<line x1="427.00" y1="394.20" x2="431.50" y2="394.20" stroke="#000" stroke-width="1.6" />
<line x1="435.00" y1="394.20" x2="445.50" y2="394.20" stroke="#000" stroke-width="1.6" />
<rect x="434.70" y="391.60" width="5.20" height="5.20" fill="#000"/>
<text x="453.90" y="398.40" font-size="10" text-anchor="start" font-weight="bold" fill="#000" stroke="#000" stroke-width="0.25" >5x10<tspan font-size="6.8" dy="-3.3">8</tspan><tspan dy="3.3"> FLU/SA</tspan></text>
<line x1="427.00" y1="408.30" x2="431.50" y2="408.30" stroke="#000" stroke-width="1.6" />
<line x1="435.00" y1="408.30" x2="445.50" y2="408.30" stroke="#000" stroke-width="1.6" />
<polygon points="437.30,405.66 435.04,410.60 439.56,410.60" fill="#000"/>
<text x="453.90" y="412.50" font-size="10" text-anchor="start" font-weight="bold" fill="#000" stroke="#000" stroke-width="0.25" >1x10<tspan font-size="6.8" dy="-3.3">9</tspan><tspan dy="3.3"> FLU/SA</tspan></text>
<line x1="427.00" y1="422.20" x2="431.50" y2="422.20" stroke="#000" stroke-width="1.6" />
<line x1="435.00" y1="422.20" x2="445.50" y2="422.20" stroke="#000" stroke-width="1.6" />
<circle cx="437.30" cy="422.20" r="2.6" fill="#000"/>
<text x="453.90" y="426.40" font-size="10" text-anchor="start" font-weight="bold" fill="#000" stroke="#000" stroke-width="0.25" >2x10<tspan font-size="6.8" dy="-3.3">9</tspan><tspan dy="3.3"> FLU/SA</tspan></text>
</g>
</svg>
</body></html>
